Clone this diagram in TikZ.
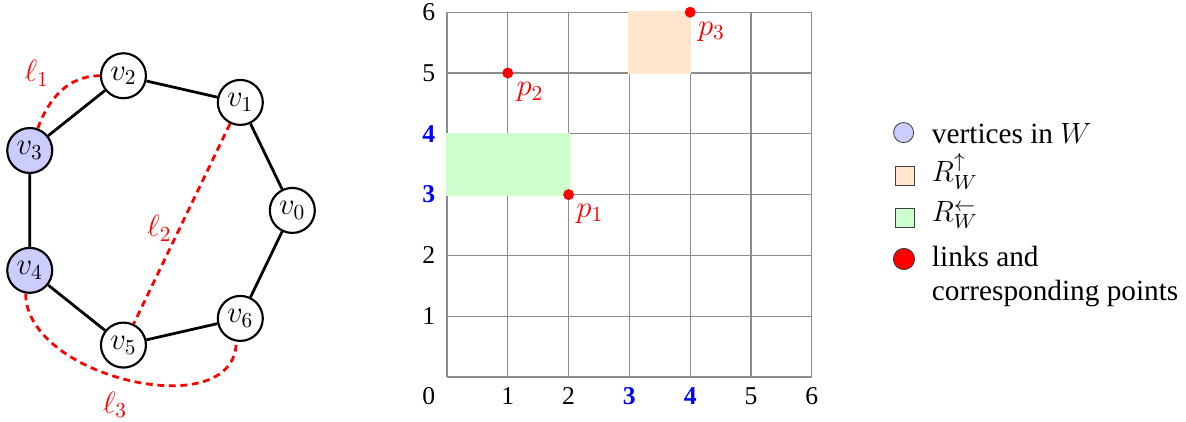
\RequirePackage{fix-cm}
\documentclass[tikz,border=0pt]{standalone}
\usepackage{fontspec}
\setmainfont{Liberation Serif}
\usetikzlibrary{calc}
\begin{document}
\begin{tikzpicture}[x=1cm,y=1cm,
  vnode/.style={circle,draw,line width=1pt,minimum size=0.74cm,inner sep=0pt,fill=white,font=\fontsize{14.4}{16}\selectfont},
  wnode/.style={vnode,fill=blue!20},
  edge/.style={line width=1.3pt},
  link/.style={red,line width=1.3pt,dash pattern=on 3.2pt off 2.2pt},
  linklabel/.style={red,font=\fontsize{14.4}{16}\selectfont},
  gridline/.style={black!45,line width=0.6pt},
  tick/.style={font=\fontsize{12}{14}\selectfont},
  bluetick/.style={tick,blue,font=\fontsize{12}{14}\selectfont\bfseries},
  dot/.style={circle,fill=red,inner sep=0pt,minimum size=0.18cm},
  plabel/.style={red,font=\fontsize{14.4}{16}\selectfont},
  legtext/.style={anchor=base west,font=\fontsize{13.7}{16}\selectfont,inner sep=0pt},
  legmark/.style={draw=black!75,line width=0.4pt}
]
\useasboundingbox (-7.352,-0.724) rectangle (12.155,6.201);

% graph
\foreach \k in {0,...,6}{
  \coordinate (c\k) at ($(-4.816,2.74)+({360/7*\k}:2.272)$);
}
\node[vnode] (v0) at (c0) {$v_0$};
\node[vnode] (v1) at (c1) {$v_1$};
\node[vnode] (v2) at (c2) {$v_2$};
\node[wnode] (v3) at (c3) {$v_3$};
\node[wnode] (v4) at (c4) {$v_4$};
\node[vnode] (v5) at (c5) {$v_5$};
\node[vnode] (v6) at (c6) {$v_6$};
\draw[edge] (v0) -- (v1) (v1) -- (v2) (v2) -- (v3) (v3) -- (v4) (v4) -- (v5) (v5) -- (v6) (v6) -- (v0);
\draw[link] (v3.70) to[out=70,in=180] (v2.180);
\draw[link] (v1) -- (v5);
\draw[link] (v4.-100) to[out=-90,in=-90,looseness=1] (v6.-100);
\node[linklabel] (l1) at (-6.748,5.0) {$\ell_1$};
\node[linklabel] (l2) at (-4.73,2.45) {$\ell_2$};
\node[linklabel] (l3) at (-5.46,-0.46) {$\ell_3$};

% grid
\draw[gridline] (0,0) grid (6,6);
\fill[green!20,draw=green!20,line width=1pt] (0,3) rectangle (2,4);
\fill[orange!20,draw=orange!20,line width=1pt] (3,5) rectangle (4,6);
\node[dot] (p1) at (2,3) {};
\node[dot] (p2) at (1,5) {};
\node[dot] (p3) at (4,6) {};
\node[plabel] (lp1) at (2.35,2.69) {$p_1$};
\node[plabel] (lp2) at (1.365,4.69) {$p_2$};
\node[plabel] (lp3) at (4.35,5.68) {$p_3$};

\node[tick] (t0) at (-0.3,-0.32) {0};
\foreach \i in {1,2,5,6}{
  \node[tick] (tx\i) at (\i,-0.32) {\i};
  \node[tick] (ty\i) at (-0.3,\i) {\i};
}
\foreach \i in {3,4}{
  \node[bluetick] (tx\i) at (\i,-0.32) {\i};
  \node[bluetick] (ty\i) at (-0.3,\i) {\i};
}

% legend
\node[legmark,circle,fill=blue!20,minimum size=0.33cm,inner sep=0pt] (m1) at (7.51,4.02) {};
\node[legmark,rectangle,fill=orange!20,minimum size=0.32cm,inner sep=0pt] (m2) at (7.533,3.306) {};
\node[legmark,rectangle,fill=green!20,minimum size=0.32cm,inner sep=0pt] (m3) at (7.533,2.615) {};
\node[legmark,circle,fill=red,minimum size=0.35cm,inner sep=0pt] (m4) at (7.516,1.941) {};
\node[legtext] (e1) at (7.97,3.843) {vertices in $W$};
\node[legtext] (e2) at (7.97,3.21) {$R_W^{\uparrow}$};
\node[legtext] (e3) at (7.97,2.555) {$R_W^{\leftarrow}$};
\node[legtext] (e4) at (7.97,1.814) {links and};
\node[legtext] (e5) at (7.97,1.266) {corresponding points};
\end{tikzpicture}
\end{document}
